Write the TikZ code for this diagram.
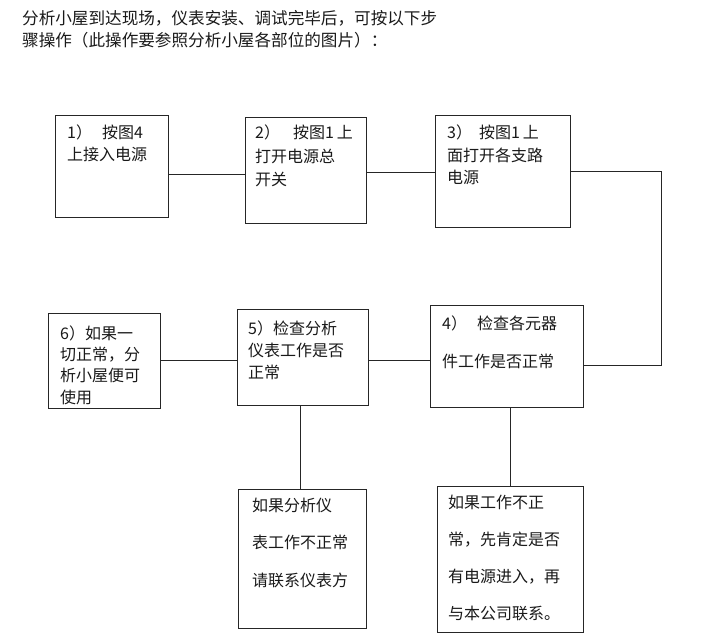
\documentclass[tikz,border=0pt]{standalone}
\usepackage{fontspec}
\newfontfamily\cjk{Noto Sans CJK SC}
\usetikzlibrary{calc}
\tikzset{
  box/.style={draw=black!85, line width=0.8pt, inner sep=0pt, rectangle},
  txt/.style={inner sep=0pt, align=left, anchor=base west, text=black!90},
  conn/.style={draw=black!85, line width=0.8pt}
}
\begin{document}
\begin{tikzpicture}[x=1pt,y=-1pt]
\useasboundingbox (0,0) rectangle (707,644);
% title (anchor = baseline of last line)
\node[txt, font=\cjk\fontsize{16.6}{22.5}\selectfont] (title) at (22,47)
  {分析小屋到达现场，仪表安装、调试完毕后，可按以下步\\骤操作（此操作要参照分析小屋各部位的图片）：};
% boxes
\node[box, minimum width=113pt, minimum height=102pt] (b1) at (111.5,166) {};
\node[box, minimum width=121pt, minimum height=106pt] (b2) at (305.5,170) {};
\node[box, minimum width=135pt, minimum height=112pt] (b3) at (502.5,171) {};
\node[box, minimum width=153pt, minimum height=102pt] (b4) at (506.5,356) {};
\node[box, minimum width=131pt, minimum height=96pt] (b5) at (302.5,357) {};
\node[box, minimum width=112pt, minimum height=95pt] (b6) at (104,360.5) {};
\node[box, minimum width=128pt, minimum height=139pt] (b7) at (302,558.5) {};
\node[box, minimum width=146pt, minimum height=146pt] (b8) at (510,559) {};
% texts (anchor = baseline of last line)
\node[txt, font=\cjk\fontsize{16}{21.5}\selectfont] (t1) at (67,160.5) {1）\hspace{10pt}按图4\\上接入电源};
\node[txt, font=\cjk\fontsize{16}{23.5}\selectfont] (t2) at (255,186) {2）\hspace{13pt}按图1\hspace{3pt}上\\打开电源总\\开关};
\node[txt, font=\cjk\fontsize{16}{22.5}\selectfont] (t3) at (447,184) {3）\hspace{7pt}按图1\hspace{3pt}上\\面打开各支路\\电源};
\node[txt, font=\cjk\fontsize{16}{38}\selectfont] (t4) at (442,367) {4）\hspace{10pt}检查各元器\\件工作是否正常};
\node[txt, font=\cjk\fontsize{16}{22}\selectfont] (t5) at (248,378) {5）检查分析\\仪表工作是否\\正常};
\node[txt, font=\cjk\fontsize{16}{21.3}\selectfont] (t6) at (60,403) {6）如果一\\切正常，分\\析小屋便可\\使用};
\node[txt, font=\cjk\fontsize{16}{37.5}\selectfont] (t7) at (252,586) {如果分析仪\\表工作不正常\\请联系仪表方};
\node[txt, font=\cjk\fontsize{16}{36.7}\selectfont] (t8) at (448,619) {如果工作不正\\常，先肯定是否\\有电源进入，再\\与本公司联系。};
% connectors
\coordinate (r) at (661,0);
\draw[conn] ([yshift=-8pt]b1.east) -- ([yshift=-8pt]b1.east -| b2.west);
\draw[conn] ([yshift=-2pt]b2.east) -- ([yshift=-2pt]b2.east -| b3.west);
\draw[conn] (b3.east) -- (b3.east -| r) -- ([yshift=-9pt]b4.east -| r) -- ([yshift=-9pt]b4.east);
\draw[conn] ([yshift=-4pt]b4.west) -- ([yshift=-4pt]b4.west -| b5.east);
\draw[conn] ([yshift=-3pt]b5.west) -- ([yshift=-3pt]b5.west -| b6.east);
\draw[conn] ([xshift=-2.5pt]b5.south) -- ([xshift=-2.5pt]b5.south |- b7.north);
\draw[conn] ([xshift=3.5pt]b4.south) -- ([xshift=3.5pt]b4.south |- b8.north);
\end{tikzpicture}
\end{document}
